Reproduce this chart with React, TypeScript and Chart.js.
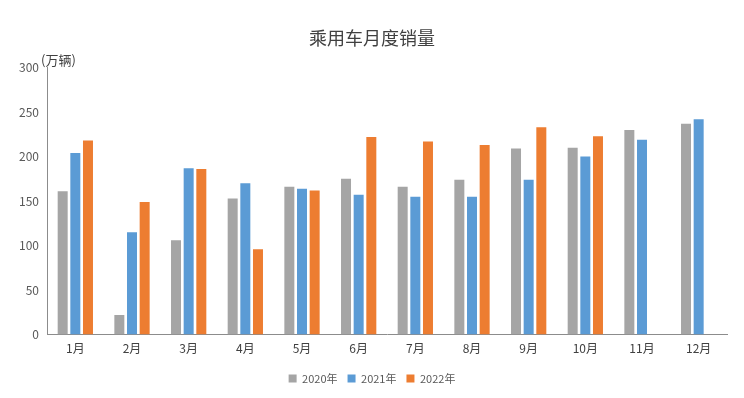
import React, { useEffect, useRef } from "react";
import { Chart, registerables } from "chart.js";
Chart.register(...registerables);

const categories = ["1月", "2月", "3月", "4月", "5月", "6月", "7月", "8月", "9月", "10月", "11月", "12月"];
const seriesNames = ["2020年", "2021年", "2022年"];
const values2020 = [161, 22, 106, 153, 166, 175, 166, 174, 209, 210, 230, 237];
const values2021 = [204, 115, 187, 170, 164, 157, 155, 155, 174, 200, 219, 242];
const values2022 = [218, 149, 186, 96, 162, 222, 217, 213, 233, 223, null, null];
const yTicks = [0, 50, 100, 150, 200, 250, 300];
const titleText = "乘用车月度销量";
const unitText = "(万辆)";

const FONT = "'Noto Sans CJK SC', 'Noto Sans', sans-serif";

const unitPlugin = {
  id: "unitLabel",
  afterDraw(chart: any) {
    const ctx = chart.ctx;
    const y = chart.scales.y;
    ctx.save();
    ctx.font = `13px ${FONT}`;
    ctx.fillStyle = "#404040";
    ctx.textAlign = "left";
    ctx.textBaseline = "middle";
    ctx.fillText(unitText, y.right - 6, y.top - 8);
    ctx.restore();
  },
};

export default function App() {
  const ref = useRef<HTMLCanvasElement>(null);
  useEffect(() => {
    document.body.style.margin = "0";
    const chart = new Chart(ref.current!, {
      type: "bar",
      data: {
        labels: categories,
        datasets: [
          { label: seriesNames[0], data: values2020, backgroundColor: "#A5A5A5" },
          { label: seriesNames[1], data: values2021, backgroundColor: "#5B9BD5" },
          { label: seriesNames[2], data: values2022 as any, backgroundColor: "#ED7D31" },
        ],
      },
      options: {
        animation: false,
        responsive: false,
        maintainAspectRatio: false,
        layout: { padding: { left: 17, right: 17, top: 0, bottom: 4 } },
        datasets: { bar: { categoryPercentage: 0.67, barPercentage: 0.79 } },
        plugins: {
          title: {
            display: true,
            text: titleText,
            color: "#404040",
            font: { family: FONT, size: 18, weight: "normal" },
            padding: { top: 27, bottom: 19 },
          },
          legend: {
            position: "bottom",
            labels: {
              boxWidth: 8,
              boxHeight: 8,
              color: "#595959",
              font: { family: FONT, size: 11 },
              padding: 10,
            },
          },
          tooltip: { enabled: false },
        },
        scales: {
          x: {
            grid: { display: false, drawTicks: false },
            border: { display: true, color: "#8c8c8c", width: 1 },
            ticks: { color: "#404040", font: { family: FONT, size: 12 }, padding: 7 },
          },
          y: {
            min: 0,
            max: 300,
            afterFit(scale: any) {
              scale.width = 30;
            },
            afterBuildTicks(scale: any) {
              scale.ticks = yTicks.map((v) => ({ value: v }));
            },
            grid: { display: false, drawTicks: false },
            border: { display: true, color: "#8c8c8c", width: 1 },
            ticks: { color: "#595959", font: { family: FONT, size: 12 }, padding: 8 },
          },
        },
      },
      plugins: [unitPlugin],
    });
    return () => chart.destroy();
  }, []);
  return (
    <div style={{ width: 744, height: 398 }}>
      <canvas ref={ref} width={744} height={398} style={{ width: 744, height: 398 }} />
    </div>
  );
}
